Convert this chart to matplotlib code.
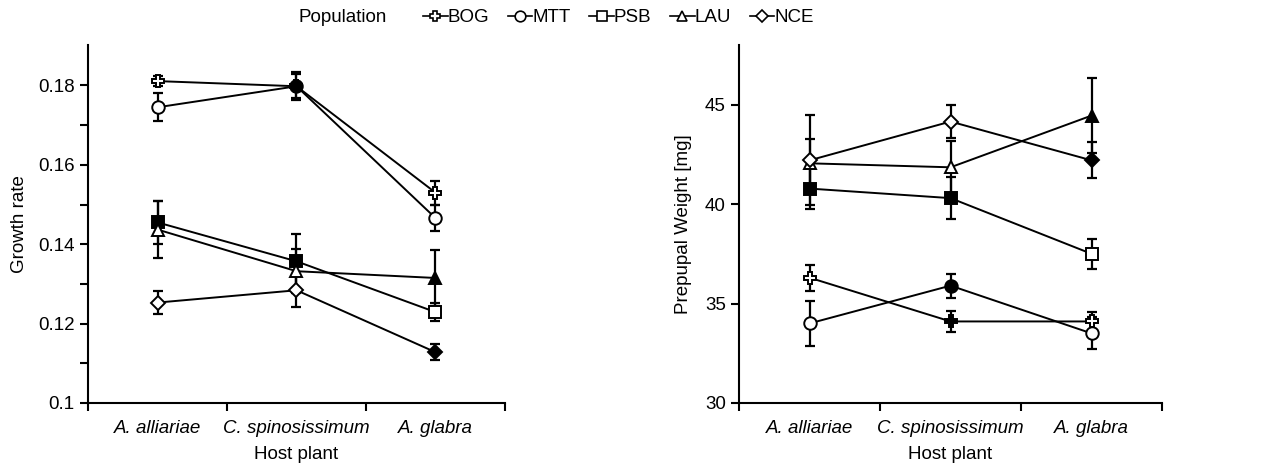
import numpy as np
import matplotlib.pyplot as plt
from matplotlib.lines import Line2D

plt.rcParams['font.family'] = ['Liberation Sans', 'DejaVu Sans']
fs = 13.5

hosts = ["A. alliariae", "C. spinosissimum", "A. glabra"]
populations = ["BOG", "MTT", "PSB", "LAU", "NCE"]
markers = {"BOG": "P", "MTT": "o", "PSB": "s", "LAU": "^", "NCE": "D"}
msize = {"BOG": 9, "MTT": 9, "PSB": 8.5, "LAU": 9, "NCE": 7}

# Growth rate (mean, error, filled marker)
growth = {
    "BOG": [0.1811, 0.1798, 0.1530],
    "MTT": [0.1745, 0.1798, 0.1466],
    "PSB": [0.1455, 0.1357, 0.1229],
    "LAU": [0.1437, 0.1332, 0.1315],
    "NCE": [0.1253, 0.1284, 0.1128],
}
growth_err = {
    "BOG": [0.0012, 0.0030, 0.0030],
    "MTT": [0.0035, 0.0035, 0.0032],
    "PSB": [0.0055, 0.0068, 0.0023],
    "LAU": [0.0072, 0.0055, 0.0070],
    "NCE": [0.0030, 0.0042, 0.0020],
}
growth_filled = {
    "BOG": [False, True, False],
    "MTT": [False, True, False],
    "PSB": [True, True, False],
    "LAU": [False, False, True],
    "NCE": [False, False, True],
}

# Prepupal weight (mean, error, filled marker)
weight = {
    "BOG": [36.3, 34.1, 34.1],
    "MTT": [34.0, 35.9, 33.5],
    "PSB": [40.78, 40.3, 37.5],
    "LAU": [42.05, 41.85, 44.45],
    "NCE": [42.2, 44.15, 42.2],
}
weight_err = {
    "BOG": [0.65, 0.55, 0.45],
    "MTT": [1.15, 0.6, 0.8],
    "PSB": [1.05, 1.05, 0.75],
    "LAU": [1.2, 1.3, 1.9],
    "NCE": [2.27, 0.85, 0.9],
}
weight_filled = {
    "BOG": [False, True, False],
    "MTT": [False, True, False],
    "PSB": [True, True, False],
    "LAU": [False, False, True],
    "NCE": [False, False, True],
}

fig = plt.figure(figsize=(12.7, 4.71), dpi=100)
ax1 = fig.add_axes([0.0693, 0.1444, 0.3283, 0.7601])
ax2 = fig.add_axes([0.5819, 0.1444, 0.3331, 0.7601])

x = np.arange(len(hosts)) + 0.5


def draw(ax, means, errs, filled):
    for p in populations:
        ax.errorbar(x, means[p], yerr=errs[p], color="black", lw=1.4,
                    elinewidth=1.6, capsize=3.5, capthick=1.6, zorder=2)
        for xi, yi, f in zip(x, means[p], filled[p]):
            ax.plot(xi, yi, marker=markers[p], ms=msize[p], mec="black",
                    mew=1.4, mfc="black" if f else "white", zorder=3)
    ax.set_xlim(0, 3)
    ax.set_xticks([0, 1, 2, 3])
    ax.set_xticklabels([])
    ax.set_xticks(x, minor=True)
    ax.set_xticklabels(hosts, minor=True, style="italic", fontsize=fs)
    ax.tick_params(axis="x", which="minor", length=0, pad=12)
    ax.tick_params(axis="x", which="major", length=6, width=1.5)
    ax.tick_params(axis="y", which="both", width=1.5, labelsize=fs)
    ax.spines["top"].set_visible(False)
    ax.spines["right"].set_visible(False)
    ax.spines["left"].set_linewidth(1.5)
    ax.spines["bottom"].set_linewidth(1.5)
    ax.set_xlabel("Host plant", fontsize=fs, labelpad=7)


draw(ax1, growth, growth_err, growth_filled)
ax1.set_ylim(0.1, 0.1902)
ax1.set_yticks([0.1, 0.12, 0.14, 0.16, 0.18])
ax1.set_yticklabels(["0.1", "0.12", "0.14", "0.16", "0.18"])
ax1.set_yticks([0.11, 0.13, 0.15, 0.17], minor=True)
ax1.tick_params(axis="y", which="major", length=6)
ax1.tick_params(axis="y", which="minor", length=6)
ax1.set_ylabel("Growth rate", fontsize=fs, labelpad=7)

draw(ax2, weight, weight_err, weight_filled)
ax2.set_ylim(30, 48)
ax2.set_yticks([30, 35, 40, 45])
ax2.tick_params(axis="y", which="major", length=6)
ax2.set_ylabel("Prepupal Weight [mg]", fontsize=fs, labelpad=9)

handles = [Line2D([0], [0], color="black", lw=1.2, marker=markers[p],
                  ms=msize[p] * 0.85, mfc="white", mec="black", mew=1.2)
           for p in populations]
fig.text(0.235, 0.962, "Population", fontsize=fs, va="center", ha="left")
fig.legend(handles, populations, loc="center", bbox_to_anchor=(0.487, 0.962),
           ncol=5, frameon=False, fontsize=fs, handlelength=1.3,
           handletextpad=0.0, columnspacing=1.0, borderaxespad=0)

fig.savefig("out.png", dpi=100)
